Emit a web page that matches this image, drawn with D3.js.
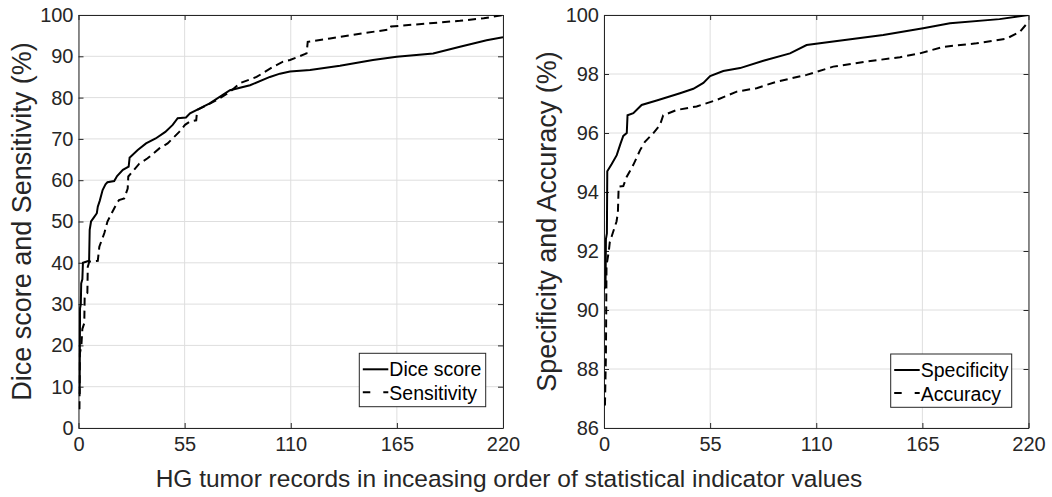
<!DOCTYPE html>
<html><head><meta charset="utf-8">
<script src="https://cdn.jsdelivr.net/npm/d3@7"></script>
<style>
html,body{margin:0;padding:0;background:#fff;}
svg{display:block;font-family:"Liberation Sans",Arial,Helvetica,sans-serif;}
</style></head>
<body>
<svg id="chart" width="1052" height="497"></svg>
<script>
// ---- data (record index, value %) ----
const xTicks = [0, 55, 110, 165, 220];
const leftYTicks = [0, 10, 20, 30, 40, 50, 60, 70, 80, 90, 100];
const rightYTicks = [86, 88, 90, 92, 94, 96, 98, 100];

const diceScore = [[0,8.5],[0.6,8.5],[0.8,29],[1.2,30],[1.4,35],[2,36],[2.3,40],[5.5,40.5],[5.8,48],[6.5,50],[8,51],[9.5,52],[10,53.6],[11,55],[12.5,57.6],[14,59],[15,59.5],[18.5,59.8],[20,61],[23,62.5],[26,63.3],[26.5,65.5],[27,65.7],[30.7,67.3],[35,68.9],[40,70.1],[45,71.7],[48.8,73.4],[51.4,75],[55.7,75.2],[57.8,76.2],[68,78.6],[78.5,81.8],[88.9,83],[99.2,85],[104.4,85.8],[109.6,86.3],[120,86.7],[135.5,87.7],[152.6,89.1],[164.9,89.9],[183.8,90.7],[197.7,92.3],[211.5,93.9],[220,94.6]];
const sensitivity = [[0,4.8],[0.5,4.8],[0.7,18],[1.5,20],[2,24],[3,25.4],[3.2,32],[4.6,32.7],[4.8,39],[5.6,40.3],[10,40.5],[10.8,43.9],[13.4,47.2],[15,50],[19.4,54],[21,55.2],[23.7,55.6],[25.5,58],[25.8,60.9],[31.5,64],[35.8,65.3],[41.9,67.7],[46.2,68.9],[52.2,71.7],[55.2,73.4],[57.8,74.2],[61,74.5],[61.5,77],[71.6,79.4],[78.5,81.4],[83.7,83.5],[92.3,85],[101,87.5],[106,88.7],[109.6,89.1],[118.2,90.7],[118.8,93.5],[130.4,94.3],[147.6,95.6],[161.4,96.5],[162,97.2],[182,98],[197.7,98.6],[210,99.2],[220,100]];
const specificity = [[0,90.7],[0.8,90.8],[1,92.4],[1.5,92.6],[1.7,94.7],[4,94.95],[6.6,95.25],[8.6,95.65],[10,95.9],[11.8,96],[12.2,96.6],[15.2,96.67],[19.5,96.95],[27.3,97.1],[39.4,97.35],[46.3,97.5],[51.5,97.7],[55,97.93],[61.8,98.1],[70.5,98.2],[82.6,98.45],[96.4,98.7],[105,98.98],[118.8,99.1],[144.7,99.32],[165.4,99.55],[179.3,99.72],[205,99.86],[220,100]];
const accuracy = [[0,86.8],[0.5,86.8],[1,88.5],[1.3,91.5],[2.5,92],[3,92.3],[4,92.5],[6.5,93],[7.2,93.3],[7.6,94.18],[10,94.2],[11.8,94.52],[15.2,94.92],[18.7,95.42],[21.2,95.7],[25.5,95.99],[29,96.27],[30.7,96.6],[37.7,96.78],[48,96.9],[58.4,97.12],[68.8,97.4],[79.1,97.52],[89.5,97.74],[105,97.97],[118.8,98.25],[136,98.42],[153.4,98.57],[163.7,98.7],[175.8,98.92],[193.1,99.04],[208.6,99.2],[215.5,99.43],[220,99.77]];

const leftLabels = ["Dice score", "Sensitivity"];
const rightLabels = ["Specificity", "Accuracy"];
const yLabelLeft = "Dice score and Sensitivity (%)";
const yLabelRight = "Specificity and Accuracy (%)";
const xLabel = "HG tumor records in inceasing order of statistical indicator values";

// ---- drawing ----
const svg = d3.select("#chart");
const AX = "#262626", GRID = "#dedede";
const TOP = 15, BOTTOM = 428;
const DASH = "8,5";

function panel(cfg) {
  const x = d3.scaleLinear().domain([0, 220]).range([cfg.x0, cfg.x1]);
  const y = d3.scaleLinear().domain(cfg.yDomain).range([BOTTOM, TOP]);
  const g = svg.append("g");
  const id = "clip" + cfg.key;
  svg.append("clipPath").attr("id", id).append("rect")
    .attr("x", cfg.x0).attr("y", TOP).attr("width", cfg.x1 - cfg.x0).attr("height", BOTTOM - TOP);

  // grid
  g.append("g").selectAll("line").data(xTicks).join("line")
    .attr("x1", d => x(d)).attr("x2", d => x(d)).attr("y1", TOP).attr("y2", BOTTOM)
    .attr("stroke", GRID).attr("stroke-width", 1);
  g.append("g").selectAll("line").data(cfg.yTicks).join("line")
    .attr("x1", cfg.x0).attr("x2", cfg.x1).attr("y1", d => y(d)).attr("y2", d => y(d))
    .attr("stroke", GRID).attr("stroke-width", 1);

  // axes with inward ticks
  const tl = 5;
  const axB = d3.axisBottom(x).tickValues(xTicks).tickSizeInner(-tl).tickSizeOuter(0).tickPadding(9).tickFormat(d3.format("d"));
  const axT = d3.axisTop(x).tickValues(xTicks).tickSizeInner(-tl).tickSizeOuter(0).tickFormat("");
  const axL = d3.axisLeft(y).tickValues(cfg.yTicks).tickSizeInner(-tl).tickSizeOuter(0).tickPadding(5).tickFormat(d3.format("d"));
  const axR = d3.axisRight(y).tickValues(cfg.yTicks).tickSizeInner(-tl).tickSizeOuter(0).tickFormat("");
  const style = s => {
    s.select(".domain").attr("stroke", AX).attr("stroke-width", 1);
    s.selectAll(".tick line").attr("stroke", AX);
    s.selectAll("text").attr("fill", AX).style("font-size", "20px").style("font-family", "'Liberation Sans',Arial,sans-serif");
  };
  g.append("g").attr("transform", `translate(0,${BOTTOM})`).call(axB).call(style);
  g.append("g").attr("transform", `translate(0,${TOP})`).call(axT).call(style);
  g.append("g").attr("transform", `translate(${cfg.x0},0)`).call(axL).call(style);
  g.append("g").attr("transform", `translate(${cfg.x1},0)`).call(axR).call(style);

  // lines
  const line = d3.line().x(d => x(d[0])).y(d => y(d[1]));
  const lg = g.append("g").attr("clip-path", `url(#${id})`);
  lg.append("path").datum(cfg.solid).attr("d", line).attr("fill", "none")
    .attr("stroke", "#000").attr("stroke-width", 2).attr("stroke-linejoin", "miter");
  lg.append("path").datum(cfg.dashed).attr("d", line).attr("fill", "none")
    .attr("stroke", "#000").attr("stroke-width", 2).attr("stroke-dasharray", DASH);

  // y label
  g.append("text").attr("transform", `translate(${cfg.ylx},${(TOP + BOTTOM) / 2}) rotate(-90)`)
    .attr("text-anchor", "middle").attr("fill", AX).style("font-size", "27px").text(cfg.ylabel);

  // legend
  const L = cfg.legend;
  const lgd = g.append("g");
  lgd.append("rect").attr("x", L.x).attr("y", L.y).attr("width", L.w).attr("height", L.h)
    .attr("fill", "#fff").attr("stroke", AX).attr("stroke-width", 1);
  lgd.append("line").attr("x1", L.x + 3.5).attr("x2", L.x + 29).attr("y1", L.y + 16).attr("y2", L.y + 16)
    .attr("stroke", "#000").attr("stroke-width", 2);
  lgd.append("line").attr("x1", L.x + 3.5).attr("x2", L.x + 29).attr("y1", L.y + 39).attr("y2", L.y + 39)
    .attr("stroke", "#000").attr("stroke-width", 2).attr("stroke-dasharray", "7.5,13,5");
  lgd.selectAll("text").data(cfg.labels).join("text")
    .attr("x", L.x + 30).attr("y", (d, i) => L.y + 23 + i * 24)
    .attr("fill", "#000").style("font-size", "19.5px").text(d => d);
}

panel({key: "L", x0: 78.5, x1: 503, yDomain: [0, 100], yTicks: leftYTicks,
  solid: diceScore, dashed: sensitivity, ylabel: yLabelLeft, ylx: 31, labels: leftLabels,
  legend: {x: 359.3, y: 353.3, w: 126.4, h: 53.4}});
panel({key: "R", x0: 604, x1: 1028.5, yDomain: [86, 100], yTicks: rightYTicks,
  solid: specificity, dashed: accuracy, ylabel: yLabelRight, ylx: 556, labels: rightLabels,
  legend: {x: 890.7, y: 354, w: 121, h: 53.3}});

svg.append("text").attr("x", 509).attr("y", 487).attr("text-anchor", "middle")
  .attr("fill", AX).style("font-size", "24.5px").text(xLabel);
</script>
</body></html>
